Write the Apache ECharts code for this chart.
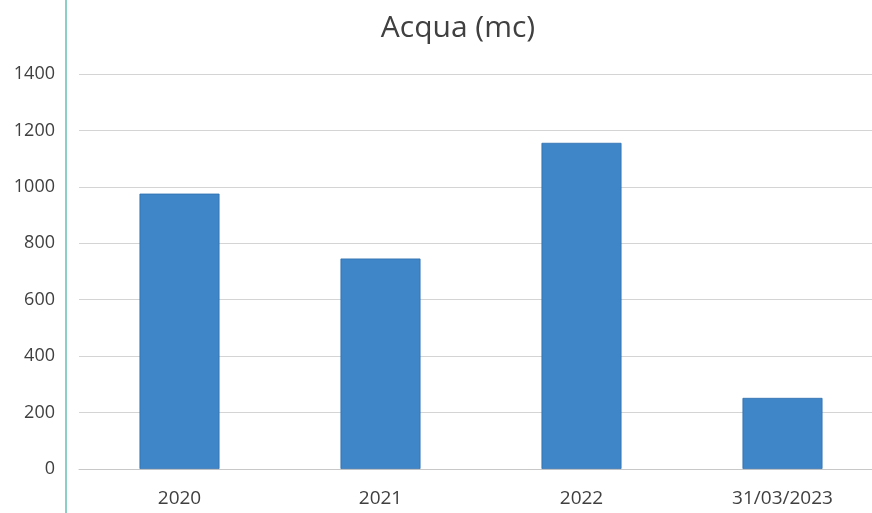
<!DOCTYPE html>
<html>
<head>
<meta charset="utf-8">
<script src="https://cdn.jsdelivr.net/npm/echarts@6/dist/echarts.min.js"></script>
<style>
  html, body { margin: 0; padding: 0; background: #ffffff; }
  #chart { width: 872px; height: 513px; }
</style>
</head>
<body>
<div id="chart"></div>
<script>
// Water consumption per period, cubic metres
const categories = ['2020', '2021', '2022', '31/03/2023'];
const values = [976, 746, 1156, 252];
const yTicks = [0, 200, 400, 600, 800, 1000, 1200, 1400];

const chart = echarts.init(document.getElementById('chart'));
const textColor = '#404040';
const fontFamily = "'Open Sans', 'Liberation Sans', sans-serif";

chart.setOption({
  backgroundColor: '#ffffff',
  animation: false,
  title: {
    text: 'Acqua (mc)',
    left: 453,
    textAlign: 'center',
    top: 8,
    textStyle: { color: textColor, fontSize: 30, fontWeight: 'normal', fontFamily: fontFamily }
  },
  grid: { left: 79, top: 74, width: 804, height: 395, outerBoundsMode: 'none' },
  xAxis: {
    type: 'category',
    data: categories,
    axisLine: { lineStyle: { color: '#c8c8c8', width: 1 } },
    axisTick: { show: false },
    axisLabel: { color: textColor, fontSize: 19, fontFamily: fontFamily, margin: 20 }
  },
  yAxis: {
    type: 'value',
    min: yTicks[0],
    max: yTicks[yTicks.length - 1],
    interval: yTicks[1] - yTicks[0],
    axisLine: { show: false },
    axisTick: { show: false },
    axisLabel: {
      color: textColor, fontSize: 18, fontFamily: fontFamily, margin: 24,
      formatter: (v) => String(v)
    },
    splitLine: { lineStyle: { color: '#d4d4d4', width: 1 } }
  },
  graphic: [{
    type: 'line',
    shape: { x1: 66, y1: 0, x2: 66, y2: 513 },
    style: { stroke: '#8ccfc6', lineWidth: 2 }
  }],
  series: [{
    type: 'bar',
    data: values,
    barWidth: 80,
    itemStyle: { color: '#3e86c8', borderColor: '#2f6fae', borderWidth: 0.8 }
  }]
});
</script>
</body>
</html>
